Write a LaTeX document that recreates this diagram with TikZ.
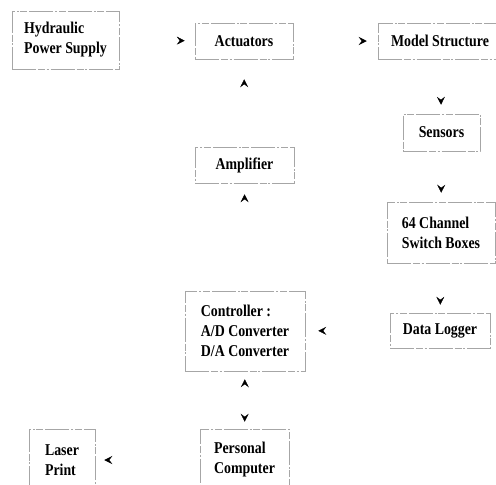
\documentclass[tikz,border=0pt]{standalone}
\usepackage{fontspec}
\setmainfont{Liberation Serif}[FakeStretch=0.84]
\usetikzlibrary{arrows.meta,decorations.markings}

\tikzset{
	block/.style={draw=black!35, line width=0.5pt, dash pattern=on 24pt off 2pt on 7pt off 1.5pt on 2pt off 2pt, align=left, inner sep=0pt, font=\fontsize{16.5}{20}\selectfont\bfseries},
	headto/.style={decoration={markings, mark=at position -#1 with {\arrow{Stealth[length=8pt,width=8pt,inset=3pt]}}}, postaction={decorate}},
	headto/.default=10pt
}

\begin{document}
\begin{tikzpicture}[x=1pt,y=-1pt]
	\useasboundingbox (0,0) rectangle (496,485);
	\node[block, minimum width=107pt, minimum height=58pt] (hydraulic) at (65.5,40) {Hydraulic\\Power Supply};
	\node[block, minimum width=98pt, minimum height=36pt] (actuators) at (244,41) {Actuators};
	\node[block, minimum width=124pt, minimum height=36pt] (model) at (440,41) {Model Structure};
	\node[block, minimum width=77pt, minimum height=37pt] (sensors) at (441.5,132.5) {Sensors};
	\node[block, minimum width=99pt, minimum height=36pt] (amplifier) at (244.5,165) {Amplifier};
	\node[block, minimum width=108pt, minimum height=61pt] (switchbox) at (441,232.5) {64 Channel\\Switch Boxes};
	\node[block, minimum width=100pt, minimum height=35pt] (logger) at (440,330.5) {Data Logger};
	\node[block, minimum width=120pt, minimum height=80pt] (controller) at (245,331) {Controller :\\A/D Converter\\D/A Converter};
	\node[block, minimum width=89pt, minimum height=62pt] (computer) at (244.5,460) {Personal\\Computer};
	\node[block, minimum width=66pt, minimum height=62pt] (laser) at (62,460) {Laser\\Print};
	\path[headto] (hydraulic) -- (actuators);
	\path[headto=11pt] (actuators) -- (model);
	\path[headto=9pt] (model) -- (sensors);
	\path[headto=20pt] (amplifier) -- (actuators);
	\path[headto=11pt] (controller) -- (amplifier);
	\path[headto=9pt] (sensors) -- (switchbox);
	\path[headto=8pt] (switchbox) -- (logger);
	\path[headto=13pt] (logger) -- (controller);
	\path[headto=8pt] (computer) -- (controller);
	\path[headto=7pt] (controller) -- (computer);
	\path[headto=9pt] (computer) -- (laser);
\end{tikzpicture}
\end{document}
